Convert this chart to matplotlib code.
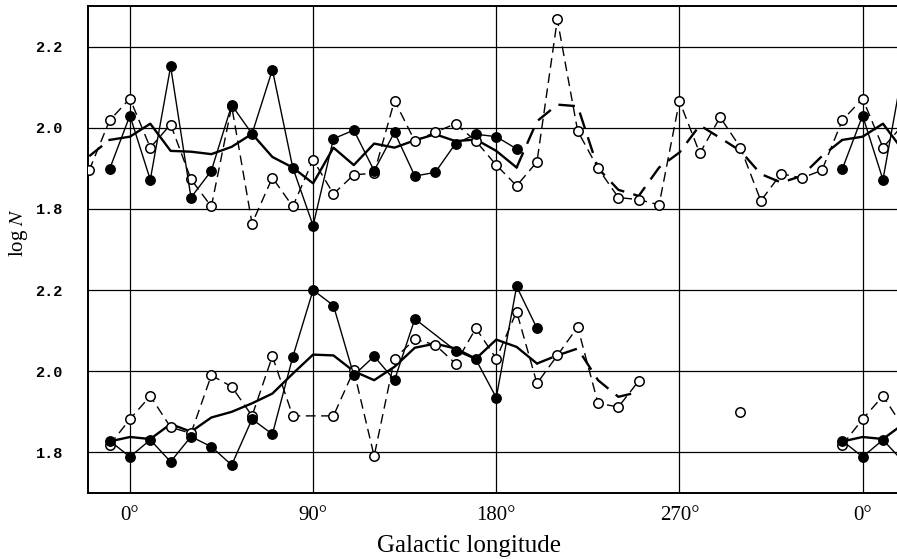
import matplotlib

matplotlib.use("Agg")
import matplotlib.pyplot as plt
import numpy as np

# Galactic longitude grid (deg), one reading every 10 degrees
LON = np.arange(0, 360, 10)
nan = np.nan

# Upper panel, log N
UPPER_OPEN = np.array([
    2.072, 1.951, 2.008, 1.873, 1.806, 2.053, 1.764, 1.877, 1.806, 1.921,
    1.837, 1.884, 1.888, 2.067, 1.967, 1.989, 2.010, 1.967, 1.908, 1.857,
    1.916, 2.267, 1.992, 1.900, 1.828, 1.823, 1.810, 2.066, 1.937, 2.026,
    1.951, 1.820, 1.887, 1.876, 1.895, 2.018,
])
UPPER_FILLED = np.array([
    2.030, 1.872, 2.151, 1.828, 1.894, 2.056, 1.985, 2.143, 1.902, 1.759,
    1.973, 1.994, 1.894, 1.989, 1.881, 1.890, 1.961, 1.984, 1.978, 1.948,
    nan, nan, nan, nan, nan, nan, nan, nan, nan, nan,
    nan, nan, nan, nan, nan, 1.898,
])
UPPER_MEAN_SOLID = np.array([
    1.978, 2.010, 1.943, 1.941, 1.935, 1.953, 1.985, 1.928, 1.902, 1.863,
    1.951, 1.908, 1.961, 1.951, 1.969, 1.984, 1.967, 1.971, 1.943, 1.902,
    nan, nan, nan, nan, nan, nan, nan, nan, nan, nan,
    nan, nan, nan, nan, nan, 1.970,
])
UPPER_MEAN_DASHED = np.array([
    nan, nan, nan, nan, nan, nan, nan, nan, nan, nan,
    nan, nan, nan, nan, nan, nan, nan, nan, nan, 1.902,
    2.016, 2.057, 2.053, 1.900, 1.847, 1.832, 1.902, 1.939, 2.006, 1.975,
    1.943, 1.886, 1.865, 1.881, 1.930, 1.970,
])

# Lower panel, log N
LOWER_OPEN = np.array([
    1.882, 1.939, 1.862, 1.847, 1.990, 1.962, 1.890, 2.037, 1.890, nan,
    1.890, 2.002, 1.791, 2.031, 2.079, 2.065, 2.019, 2.106, 2.031, 2.147,
    1.970, 2.039, 2.109, 1.921, 1.912, 1.976, nan, nan, nan, nan,
    1.900, nan, nan, nan, nan, 1.818,
])
LOWER_FILLED = np.array([
    1.789, 1.831, 1.777, 1.839, 1.814, 1.769, 1.882, 1.845, 2.035, 2.200,
    2.162, 1.990, 2.037, 1.978, 2.129, nan, 2.051, 2.029, 1.935, 2.209,
    2.106, nan, nan, nan, nan, nan, nan, nan, nan, nan,
    nan, nan, nan, nan, nan, 1.829,
])
LOWER_MEAN_SOLID = np.array([
    1.838, 1.833, 1.870, 1.851, 1.886, 1.900, 1.921, 1.945, 1.994, 2.041,
    2.039, 2.000, 1.978, 2.011, 2.058, 2.068, 2.056, 2.031, 2.078, 2.060,
    2.019, nan, nan, nan, nan, nan, nan, nan, nan, nan,
    nan, nan, nan, nan, nan, 1.827,
])
LOWER_MEAN_DASHED = np.array([
    nan, nan, nan, nan, nan, nan, nan, nan, nan, nan,
    nan, nan, nan, nan, nan, nan, nan, nan, nan, nan,
    2.019, 2.039, 2.056, 1.978, 1.937, 1.949, nan, nan, nan, nan,
    nan, nan, nan, nan, nan, nan,
])

Y_LABELS = ["2.2", "2.0", "1.8", "2.2", "2.0", "1.8"]
X_TICKS = [0, 90, 180, 270, 360]
X_LABELS = ["0°", "90°", "180°", "270°", "0°"]

UPPER_SHIFT = 0.6  # upper panel is drawn 0.6 above the lower one


def wrap(values):
    """Repeat the 0-350 readings over the -20..380 span shown."""
    ext = np.arange(-20, 390, 10)
    return ext, values[(ext % 360) // 10]


def runs(values, max_gap):
    x, y = wrap(values)
    keep = ~np.isnan(y)
    x, y = x[keep], y[keep]
    splits = np.where(np.diff(x) > max_gap)[0] + 1
    return zip(np.split(x, splits), np.split(y, splits))


plt.rcParams.update({"mathtext.fontset": "stix"})

fig = plt.figure(figsize=(8.97, 5.59), dpi=100)
ax = fig.add_axes([88 / 897, 1 - 493 / 559, 809 / 897, 487 / 559])

dash = (0, (7, 4))
for shift, open_v, fill_v, m_solid, m_dash in [
    (UPPER_SHIFT, UPPER_OPEN, UPPER_FILLED, UPPER_MEAN_SOLID, UPPER_MEAN_DASHED),
    (0.0, LOWER_OPEN, LOWER_FILLED, LOWER_MEAN_SOLID, LOWER_MEAN_DASHED),
]:
    for x, y in runs(m_solid, 10):
        ax.plot(x, y + shift, color="black", lw=1.7, zorder=3)
    for x, y in runs(m_dash, 10):
        ax.plot(x, y + shift, color="black", lw=1.7, ls=dash, zorder=3)
    for x, y in runs(open_v, 20):
        ax.plot(x, y + shift, color="black", lw=1.0, ls=dash, marker="o",
                ms=6.8, mfc="white", mec="black", mew=1.1, zorder=4)
    for x, y in runs(fill_v, 20):
        ax.plot(x, y + shift, color="black", lw=1.0, marker="o",
                ms=6.8, mfc="black", mec="black", zorder=5)

ax.set_xlim(-20.6, 376.9)
ax.set_ylim(1.7, 2.9)

ax.set_xticks(X_TICKS)
ax.set_xticklabels(X_LABELS, family="Liberation Serif", fontsize=15)
ax.set_yticks([2.8, 2.6, 2.4, 2.2, 2.0, 1.8])
ax.set_yticklabels(Y_LABELS, family="Liberation Mono", fontsize=11, weight="bold")
ax.tick_params(length=0)
ax.tick_params(axis="x", pad=9)
ax.tick_params(axis="y", pad=18)

ax.grid(True, color="black", lw=0.9)
ax.set_axisbelow(True)
for side in ["left", "top", "bottom"]:
    ax.spines[side].set_linewidth(1.4)
ax.spines["right"].set_visible(False)

fig.text(19 / 897, 1 - 232 / 559, r"log $N$", rotation=90, ha="center", va="center",
         family="Liberation Serif", fontsize=15)
fig.text(469 / 897, 1 - 546 / 559, "Galactic longitude", ha="center", va="center",
         family="Liberation Serif", fontsize=18)

fig.savefig("out.png", dpi=100)
